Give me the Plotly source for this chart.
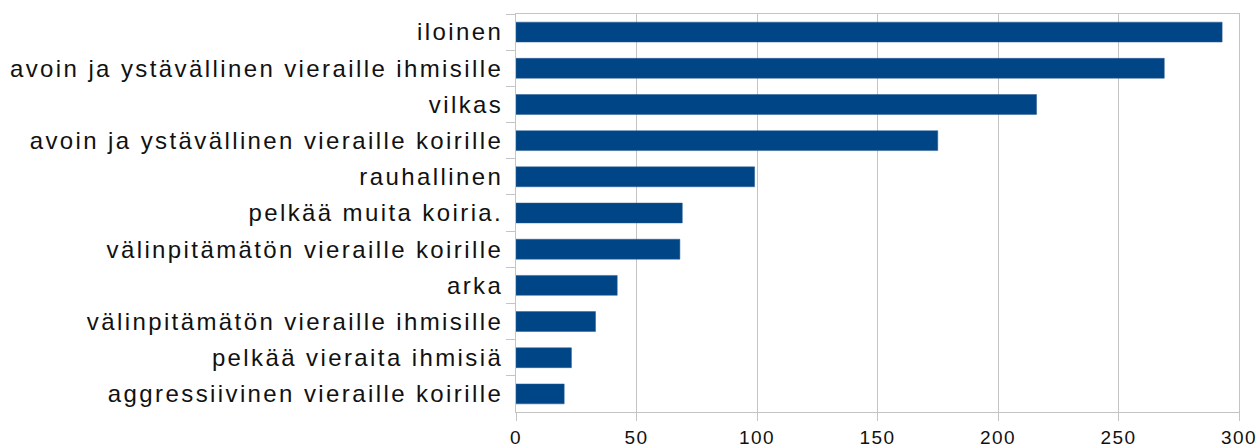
import plotly.graph_objects as go

# Luonneominaisuudet (ylhäältä alas)
CATEGORIES = [
    "iloinen",
    "avoin ja ystävällinen vieraille ihmisille",
    "vilkas",
    "avoin ja ystävällinen vieraille koirille",
    "rauhallinen",
    "pelkää muita koiria.",
    "välinpitämätön vieraille koirille",
    "arka",
    "välinpitämätön vieraille ihmisille",
    "pelkää vieraita ihmisiä",
    "aggressiivinen vieraille koirille",
]
COUNTS = [293, 269, 216, 175, 99, 69, 68, 42, 33, 23, 20]
X_TICKS = [0, 50, 100, 150, 200, 250, 300]

BAR_BLUE = "#004586"
GRID_GREY = "#c4c4c4"
TEXT = "#111111"

fig = go.Figure(
    go.Bar(
        x=COUNTS,
        y=CATEGORIES,
        orientation="h",
        width=0.55,
        marker=dict(color=BAR_BLUE, line=dict(color="#2a5d95", width=0.5)),
    )
)

fig.update_layout(
    width=1258,
    height=448,
    margin=dict(l=516, r=19, t=14, b=36),
    paper_bgcolor="white",
    plot_bgcolor="white",
    showlegend=False,
    font=dict(family="Liberation Sans, Arial, sans-serif", color=TEXT),
)

fig.update_xaxes(
    range=[0, 300],
    tickvals=X_TICKS,
    automargin=False,
    showgrid=True,
    gridcolor=GRID_GREY,
    gridwidth=1,
    zeroline=False,
    showline=True,
    linecolor=GRID_GREY,
    linewidth=1,
    mirror=True,
    ticks="outside",
    ticklen=8,
    tickcolor=GRID_GREY,
    tickfont=dict(size=19, color=TEXT),
)

fig.update_yaxes(
    autorange="reversed",
    automargin=False,
    showgrid=False,
    showline=True,
    linecolor=GRID_GREY,
    linewidth=1,
    mirror=True,
    ticks="outside",
    tickson="boundaries",
    ticklen=9,
    tickcolor=GRID_GREY,
    ticklabelstandoff=7,
    tickfont=dict(size=24, color=TEXT),
)

# sivun oletusmarginaali pois + leveä kirjainväli kuten alkuperäisessä
PAGE_JS = """
document.body.style.margin = '0';
var gd = document.getElementById('{plot_id}');
function spacing() {
    gd.querySelectorAll('.ytick text').forEach(function (t) { t.style.letterSpacing = '2.4px'; });
    gd.querySelectorAll('.xtick text').forEach(function (t) { t.style.letterSpacing = '1.5px'; });
}
spacing();
gd.on('plotly_afterplot', spacing);
"""

fig.write_html("out.html", post_script=PAGE_JS, config={"displayModeBar": False})
